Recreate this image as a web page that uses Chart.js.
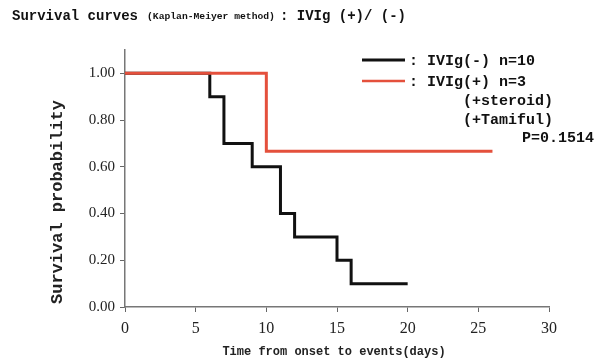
<!DOCTYPE html>
<html>
<head>
<meta charset="utf-8">
<script src="https://cdn.jsdelivr.net/npm/chart.js@4.4.0/dist/chart.umd.min.js"></script>
<style>
html,body{margin:0;padding:0;background:#fff;}
#wrap{width:600px;height:358px;position:relative;}
</style>
</head>
<body>
<div id="wrap"><canvas id="c" width="600" height="358"></canvas></div>
<script>
// Data
const ivigNegDays = [0, 6, 7, 9, 11, 12, 15, 16, 20];
const ivigNegSurv = [1.0, 0.9, 0.7, 0.6, 0.4, 0.3, 0.2, 0.1, 0.1];
const ivigPosDays = [0, 10, 26];
const ivigPosSurv = [1.0, 0.667, 0.667];
const xTicks = [0, 5, 10, 15, 20, 25, 30];
const yTicks = [0, 0.2, 0.4, 0.6, 0.8, 1.0];

const legendLines = [
  {text: ': IVIg(-) n=10', color: '#111'},
  {text: ': IVIg(+) n=3', color: '#e4503c'}
];
const legendNotes = ['(+steroid)', '(+Tamiful)'];
const pValueText = 'P=0.1514';
const titleMain = 'Survival curves';
const titleSub = '(Kaplan-Meiyer method)';
const titleTail = ': IVIg (+)/ (-)';
const yTitle = 'Survival probability';
const xTitle = 'Time from onset to events(days)';

const toPts = (xs, ys) => xs.map((x, i) => ({x: x, y: ys[i]}));
const MONO = '"Liberation Mono", "Courier New", monospace';
const SERIF = '"Liberation Serif", "Times New Roman", serif';

const annot = {
  id: 'annot',
  afterDraw(chart) {
    const ctx = chart.ctx;
    ctx.save();
    // Title
    ctx.fillStyle = '#111';
    ctx.textBaseline = 'middle';
    ctx.textAlign = 'left';
    ctx.font = 'bold 14px ' + MONO;
    ctx.fillText(titleMain, 12, 16);
    ctx.font = 'bold 9.7px ' + MONO;
    ctx.fillText(titleSub, 147, 17);
    ctx.font = 'bold 14px ' + MONO;
    ctx.fillText(titleTail, 280, 16);

    // Y title
    ctx.save();
    ctx.translate(58, 202);
    ctx.rotate(-Math.PI / 2);
    ctx.textAlign = 'center';
    ctx.font = 'bold 17px ' + MONO;
    ctx.fillStyle = '#222';
    ctx.fillText(yTitle, 0, 0);
    ctx.restore();

    // X title
    ctx.textAlign = 'center';
    ctx.font = 'bold 12px ' + MONO;
    ctx.fillStyle = '#222';
    ctx.fillText(xTitle, 334, 352);

    // Legend
    ctx.textAlign = 'left';
    ctx.font = 'bold 15px ' + MONO;
    const ly = [60, 81];
    legendLines.forEach((l, i) => {
      ctx.strokeStyle = l.color;
      ctx.lineWidth = i === 0 ? 3 : 2.5;
      ctx.beginPath();
      ctx.moveTo(362, ly[i]);
      ctx.lineTo(405, ly[i]);
      ctx.stroke();
      ctx.fillStyle = '#111';
      ctx.fillText(l.text, 409, ly[i] + 1);
    });
    ctx.fillText(legendNotes[0], 463, 101);
    ctx.fillText(legendNotes[1], 463, 120);
    ctx.fillText(pValueText, 522, 138);
    ctx.restore();
  }
};

new Chart(document.getElementById('c'), {
  type: 'scatter',
  data: {
    datasets: [
      {
        label: 'IVIg(+)',
        data: toPts(ivigPosDays, ivigPosSurv),
        showLine: true,
        stepped: 'before',
        borderColor: '#e4503c',
        borderWidth: 3,
        pointRadius: 0,
        order: 0
      },
      {
        label: 'IVIg(-)',
        data: toPts(ivigNegDays, ivigNegSurv),
        showLine: true,
        stepped: 'before',
        borderColor: '#111',
        borderWidth: 3,
        pointRadius: 0,
        order: 1
      }
    ]
  },
  options: {
    responsive: false,
    animation: false,
    layout: {padding: {left: 0, right: 51, top: 50, bottom: 0}},
    plugins: {legend: {display: false}, title: {display: false}, tooltip: {enabled: false}},
    scales: {
      x: {
        type: 'linear',
        min: 0, max: 30,
        afterBuildTicks(s) { s.ticks = xTicks.map(v => ({value: v})); },
        afterFit(s) { s.height = 51; },
        grid: {display: true, drawOnChartArea: false, drawTicks: true, tickLength: 5, color: '#666'},
        border: {display: true, color: '#777', width: 1.5},
        ticks: {
          font: {family: SERIF, size: 16},
          color: '#222',
          padding: 7,
          maxRotation: 0,
          callback: v => String(v)
        }
      },
      y: {
        type: 'linear',
        min: 0, max: 1.1,
        afterBuildTicks(s) { s.ticks = yTicks.map(v => ({value: v})); },
        afterFit(s) { s.width = 125; },
        grid: {display: true, drawOnChartArea: false, drawTicks: true, tickLength: 5, color: '#666'},
        border: {display: true, color: '#777', width: 1.5},
        ticks: {
          font: {family: SERIF, size: 15},
          color: '#222',
          padding: 5,
          callback: v => Number(v).toFixed(2)
        }
      }
    }
  },
  plugins: [annot]
});
</script>
</body>
</html>
